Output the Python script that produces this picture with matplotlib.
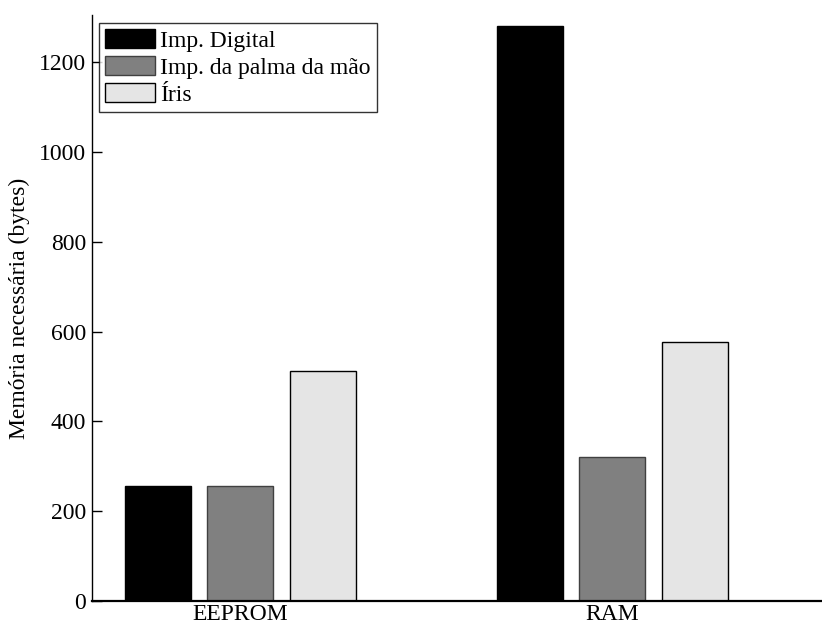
import matplotlib
matplotlib.use("Agg")
import matplotlib.pyplot as plt
import numpy as np
from matplotlib.patches import Patch

plt.rcParams['font.family'] = ['Liberation Serif', 'DejaVu Serif']

# Memory requirements per storage type
categories = ["EEPROM", "RAM"]
series_names = ["Imp. Digital", "Imp. da palma da mão", "Íris"]
imp_digital = [256, 1280]
imp_palma = [256, 320]
iris = [512, 576]
yticks = [0, 200, 400, 600, 800, 1000, 1200]

series = [imp_digital, imp_palma, iris]
face_colors = ["#000000", "#808080", "#e5e5e5"]
edge_colors = ["#000000", "#404040", "#000000"]

FS = 17
W, H = 822, 627
fig = plt.figure(figsize=(W / 100, H / 100), dpi=100)
left, right, bottom, top = 91.5, 822, 601, 15
ax = fig.add_axes([left / W, (H - bottom) / H, (right - left) / W, (bottom - top) / H])

x = np.arange(1, len(categories) + 1)
n = len(series)
group_width = n / (n + 1.5)
pitch = group_width / n
bar_w = pitch * 0.8
for i, (vals, fc, ec) in enumerate(zip(series, face_colors, edge_colors)):
    offs = (i - (n - 1) / 2) * pitch
    ax.bar(x + offs, vals, width=bar_w, color=fc, edgecolor=ec, linewidth=1.0,
           label=series_names[i], zorder=2)

ax.set_xlim(0.6, 0.6 + (right - left) / 372.0)
ax.set_ylim(0, 1305)
ax.set_xticks(x)
ax.set_xticklabels(categories)
ax.set_yticks(yticks)
ax.tick_params(axis='both', direction='in', length=7, width=1, labelsize=FS, pad=4)
ax.tick_params(axis='x', length=0, pad=2)
ax.spines['top'].set_visible(False)
ax.spines['right'].set_visible(False)
ax.spines['left'].set_linewidth(1.0)
ax.spines['bottom'].set_linewidth(1.6)
ax.spines['bottom'].set_zorder(3)
ax.set_ylabel("Memória necessária (bytes)", fontsize=FS, labelpad=6)

handles = [Patch(facecolor=fc, edgecolor=ec, linewidth=1.0) for fc, ec in zip(face_colors, edge_colors)]
leg = ax.legend(handles, series_names, loc='upper left',
                bbox_to_anchor=(7.8 / (right - left), 1 - 8.3 / (bottom - top)),
                fontsize=FS, frameon=True, fancybox=False, handlelength=2.08, handleheight=0.85,
                handletextpad=0.25, labelspacing=0.18, borderpad=0.26, borderaxespad=0)
leg.get_frame().set_edgecolor('black')
leg.get_frame().set_linewidth(1.0)

fig.savefig("out.png", dpi=100)
